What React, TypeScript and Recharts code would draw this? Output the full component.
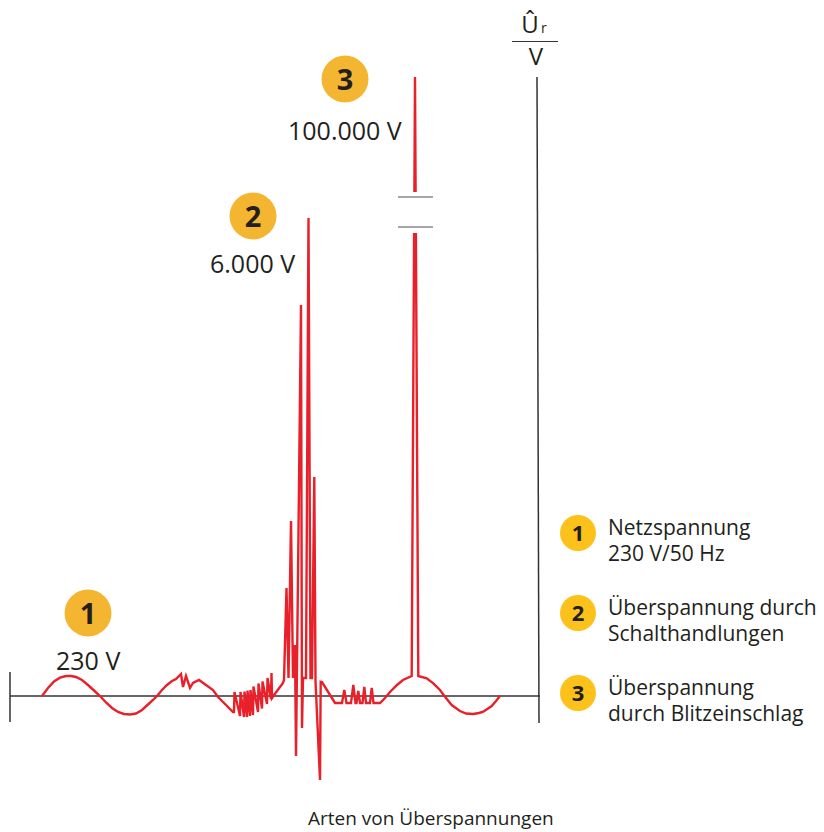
import React from "react";
import { LineChart, Line, XAxis, YAxis, ReferenceLine } from "recharts";

type Pt = [number, number | null];

// Netzspannung (sine) with small disturbance
const netzWelle: Pt[] = [
  [42, 0], [48, 8], [54, 14.5], [60, 18.3], [66, 20], [71, 20], [76, 19], [82, 16], [88, 11], [94, 5.5],
  [100, 0], [106, -6.5], [112, -12], [118, -16], [124, -18], [130, -18.5], [136, -17.5], [142, -14],
  [148, -8.5], [153, -4], [157, 0], [162, 6], [167, 11], [172, 15], [176, 17],
];
const stoerZacken: Pt[] = [
  [181, 22], [183, 9], [186, 20], [190, 8], [193, 13], [199, 16], [206, 11], [213, 6], [218, -1],
  [225, -8], [233, -16],
];
const saegezahn: Pt[] = [
  [234, -16], [234.5, 4], [240, -20], [240.5, 4], [244, -21], [244.5, 4.5], [247, -21], [247.5, 5.5],
  [250, -20], [250.5, 6], [253, -19], [253.5, 9.5], [258, -16], [258.5, 12.5], [262, -12.5],
  [262.5, 14.5], [267, -8], [267.5, 18], [271, -3], [271.5, 23], [272, -2], [277, 5], [283, 13],
];
const schaltSpitzen: Pt[] = [
  [284, 16], [286.5, 108], [288.5, 18], [291, 175], [293, 18], [295, 51], [296, -60], [301, 391],
  [302, -32], [303, 18], [306, 18], [308.5, 478], [310.5, 18], [312, 18], [314.3, 219], [315.5, 15],
  [320, -84], [320.7, 14.3], [322, 14],
];
const nachschwingen: Pt[] = [
  [335, -7], [342, -7], [344.3, 6], [346.5, -7], [351, -7], [353.3, 11], [355.5, -7], [356.5, -7],
  [358.3, 5], [360, -7], [362.5, -7], [364.3, 9], [366, -7], [370, -7], [371.7, 8], [373.5, -7], [380, -7],
];
const blitz: Pt[] = [
  [385, -2], [390, 4], [397, 11], [403, 16], [411.7, 20], [414.1, 463], [414.25, null], [414.4, 504],
  [415, 619], [415.6, 504], [415.75, null], [415.9, 463], [418.3, 20],
];
const ausklingen: Pt[] = [
  [426.7, 17.7], [433.3, 12.7], [440, 6], [445, -0.7], [451.7, -9], [460, -15], [466, -17.5],
  [473.3, -18], [479, -17], [483.3, -15.7], [491.7, -10], [496, -5], [500, 0],
];

const data = [...netzWelle, ...stoerZacken, ...saegezahn, ...schaltSpitzen, ...nachschwingen, ...blitz, ...ausklingen].map(
  ([x, y]) => ({ x, y })
);

const peakLabels = ["230 V", "6.000 V", "100.000 V"];
const legendLines = [
  ["Netzspannung", "230 V/50 Hz"],
  ["Überspannung durch", "Schalthandlungen"],
  ["Überspannung", "durch Blitzeinschlag"],
];
const title = "Arten von Überspannungen";

const FONT = "'Open Sans', sans-serif";
const TXT = "#231f20";
const AXIS = "#333333";

export default function App() {
  const chartBadges = [
    { n: "1", cx: 88, cy: 613, lx: 56, ly: 670, label: peakLabels[0] },
    { n: "2", cx: 253, cy: 216, lx: 210, ly: 273, label: peakLabels[1] },
    { n: "3", cx: 345, cy: 79, lx: 288, ly: 140, label: peakLabels[2] },
  ];
  return (
    <div style={{ position: "absolute", left: 0, top: 0, width: 824, height: 832, background: "#fff", overflow: "hidden" }}>
      <LineChart width={824} height={832} data={data} margin={{ top: 0, right: 0, bottom: 0, left: 0 }}>
        <XAxis dataKey="x" type="number" domain={[0, 824]} hide />
        <YAxis type="number" domain={[-136, 696]} hide />
        <ReferenceLine segment={[{ x: 10, y: 0 }, { x: 540, y: 0 }]} stroke={AXIS} strokeWidth={1.5} />
        <ReferenceLine segment={[{ x: 10, y: 24 }, { x: 10, y: -26 }]} stroke={AXIS} strokeWidth={1.5} />
        <ReferenceLine segment={[{ x: 537, y: 619 }, { x: 539, y: -27 }]} stroke={AXIS} strokeWidth={1.5} />
        <ReferenceLine segment={[{ x: 398, y: 499 }, { x: 433, y: 499 }]} stroke="#888" strokeWidth={1.5} />
        <ReferenceLine segment={[{ x: 398, y: 469 }, { x: 433, y: 469 }]} stroke="#888" strokeWidth={1.5} />
        <Line
          dataKey="y"
          type="linear"
          stroke="#e8202a"
          strokeWidth={2.4}
          dot={false}
          activeDot={false}
          isAnimationActive={false}
          connectNulls={false}
          strokeLinejoin="miter"
        />
      </LineChart>
      <svg width={824} height={832} style={{ position: "absolute", left: 0, top: 0, pointerEvents: "none" }}>
        {/* axis label */}
        <text x={530} y={33} fontFamily={FONT} fontSize={24} fill={TXT} textAnchor="middle">Û</text>
        <text x={541} y={33} fontFamily={FONT} fontSize={14} fill={TXT}>r</text>
        <line x1={512} y1={41.5} x2={558} y2={41.5} stroke={AXIS} strokeWidth={1} />
        <text x={536} y={65} fontFamily={FONT} fontSize={24} fill={TXT} textAnchor="middle">V</text>

        {chartBadges.map((b) => (
          <g key={b.n}>
            <circle cx={b.cx} cy={b.cy} r={23.5} fill="#f4b531" />
            <text x={b.cx} y={b.cy + 10.5} fontFamily={FONT} fontWeight={700} fontSize={29} fill={TXT} textAnchor="middle">
              {b.n}
            </text>
            <text x={b.lx} y={b.ly} fontFamily={FONT} fontSize={25} fill={TXT}>
              {b.label}
            </text>
          </g>
        ))}

        {legendLines.map((lines, i) => {
          const cy = 533 + i * 80;
          return (
            <g key={i}>
              <circle cx={578} cy={cy} r={18} fill="#fcc21b" />
              <text x={578} y={cy + 8} fontFamily={FONT} fontWeight={700} fontSize={22} fill={TXT} textAnchor="middle">
                {String(i + 1)}
              </text>
              <text x={608} y={cy + 2} fontFamily={FONT} fontSize={21} fill={TXT}>{lines[0]}</text>
              <text x={608} y={cy + 28} fontFamily={FONT} fontSize={21} fill={TXT}>{lines[1]}</text>
            </g>
          );
        })}

        <text x={308} y={825} fontFamily={FONT} fontSize={19} fill={TXT}>{title}</text>
      </svg>
    </div>
  );
}
